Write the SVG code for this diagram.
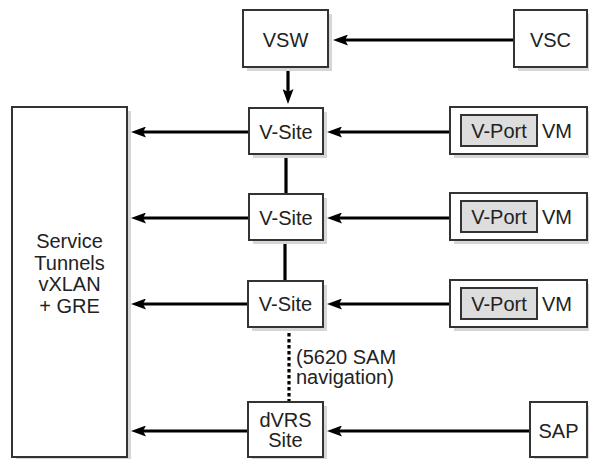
<svg xmlns="http://www.w3.org/2000/svg" width="589" height="459" viewBox="0 0 589 459">
  <style>
    .box { fill: #ffffff; stroke: #333333; stroke-width: 2; }
    .shadow { fill: #d6d6d6; }
    .port { fill: #dddddd; stroke: #333333; stroke-width: 2; }
    .lbl { font-family: "Liberation Sans", Arial, Helvetica, sans-serif; font-size: 20px; fill: #222222; }
    .mid { text-anchor: middle; }
    .link { stroke: #000000; stroke-width: 3.2; fill: none; }
    .arrow { stroke: #000000; stroke-width: 3.2; fill: none; marker-end: url(#head); }
    .dots { stroke: #000000; stroke-width: 3.2; fill: none; stroke-dasharray: 3.5 2.5; }
  </style>
  <defs>
    <marker id="head" viewBox="0 0 15 11" markerUnits="userSpaceOnUse" markerWidth="15" markerHeight="11" refX="3" refY="5.5" orient="auto">
      <path d="M0,0 L15,5.5 L0,11 L3,5.5 Z" fill="#000000"/>
    </marker>
  </defs>

  <rect width="589" height="459" fill="#ffffff"/>

  <!-- connectors -->
  <g id="connectors">
    <line class="arrow" x1="514" y1="40" x2="345" y2="40"/>
    <line class="arrow" x1="288" y1="67" x2="288" y2="92"/>
    <line class="link" x1="286" y1="154" x2="286" y2="194"/>
    <line class="link" x1="285" y1="240" x2="285" y2="281"/>
    <line class="dots" x1="289" y1="327" x2="289" y2="402"/>
    <line class="arrow" x1="249" y1="132" x2="143" y2="132"/>
    <line class="arrow" x1="249" y1="218" x2="143" y2="218"/>
    <line class="arrow" x1="249" y1="304" x2="143" y2="304"/>
    <line class="arrow" x1="248" y1="431" x2="143" y2="431"/>
    <line class="arrow" x1="450" y1="132" x2="339" y2="132"/>
    <line class="arrow" x1="450" y1="218" x2="339" y2="218"/>
    <line class="arrow" x1="450" y1="304" x2="339" y2="304"/>
    <line class="arrow" x1="530" y1="431" x2="339" y2="431"/>
    <text class="lbl" x="296" y="364">(5620 SAM</text>
    <text class="lbl" x="296" y="384">navigation)</text>
  </g>

  <!-- service tunnels -->
  <g id="tunnels">
    <rect class="shadow" x="16" y="111" width="115" height="350"/>
    <rect class="box" x="12" y="107" width="115" height="350"/>
    <text class="lbl mid" x="69.5" y="248">Service</text>
    <text class="lbl mid" x="69.5" y="269.5">Tunnels</text>
    <text class="lbl mid" x="69.5" y="291">vXLAN</text>
    <text class="lbl mid" x="69.5" y="312.5">+ GRE</text>
  </g>

  <g id="vsw">
    <rect class="shadow" x="247" y="14" width="85" height="57"/>
    <rect class="box" x="243" y="10" width="85" height="57"/>
    <text class="lbl mid" x="285.5" y="46.5">VSW</text>
  </g>

  <g id="vsc">
    <rect class="shadow" x="518" y="14" width="73" height="57"/>
    <rect class="box" x="514" y="10" width="73" height="57"/>
    <text class="lbl mid" x="550.5" y="46.5">VSC</text>
  </g>

  <g id="vsite1">
    <rect class="shadow" x="253" y="112" width="74" height="46"/>
    <rect class="box" x="249" y="108" width="74" height="46"/>
    <text class="lbl mid" x="286" y="139">V-Site</text>
  </g>

  <g id="vsite2">
    <rect class="shadow" x="253" y="198" width="74" height="46"/>
    <rect class="box" x="249" y="194" width="74" height="46"/>
    <text class="lbl mid" x="286" y="225">V-Site</text>
  </g>

  <g id="vsite3">
    <rect class="shadow" x="252" y="285" width="75" height="46"/>
    <rect class="box" x="248" y="281" width="75" height="46"/>
    <text class="lbl mid" x="285.5" y="311">V-Site</text>
  </g>

  <g id="dvrs">
    <rect class="shadow" x="252" y="406" width="75" height="55"/>
    <rect class="box" x="248" y="402" width="75" height="55"/>
    <text class="lbl mid" x="285.5" y="426.5">dVRS</text>
    <text class="lbl mid" x="285.5" y="447">Site</text>
  </g>

  <g id="vm1">
    <rect class="shadow" x="454" y="111" width="137" height="47"/>
    <rect class="box" x="450" y="107" width="137" height="47"/>
    <rect class="port" x="461" y="115" width="76" height="31"/>
    <text class="lbl mid" x="499" y="138">V-Port</text>
    <text class="lbl" x="542" y="138">VM</text>
  </g>

  <g id="vm2">
    <rect class="shadow" x="454" y="197" width="137" height="47"/>
    <rect class="box" x="450" y="193" width="137" height="47"/>
    <rect class="port" x="461" y="201" width="76" height="31"/>
    <text class="lbl mid" x="499" y="224">V-Port</text>
    <text class="lbl" x="542" y="224">VM</text>
  </g>

  <g id="vm3">
    <rect class="shadow" x="454" y="284" width="137" height="47"/>
    <rect class="box" x="450" y="280" width="137" height="47"/>
    <rect class="port" x="461" y="288" width="76" height="31"/>
    <text class="lbl mid" x="499" y="311">V-Port</text>
    <text class="lbl" x="542" y="311">VM</text>
  </g>

  <g id="sap">
    <rect class="shadow" x="534" y="406" width="57" height="55"/>
    <rect class="box" x="530" y="402" width="57" height="55"/>
    <text class="lbl mid" x="558.5" y="438">SAP</text>
  </g>
</svg>
